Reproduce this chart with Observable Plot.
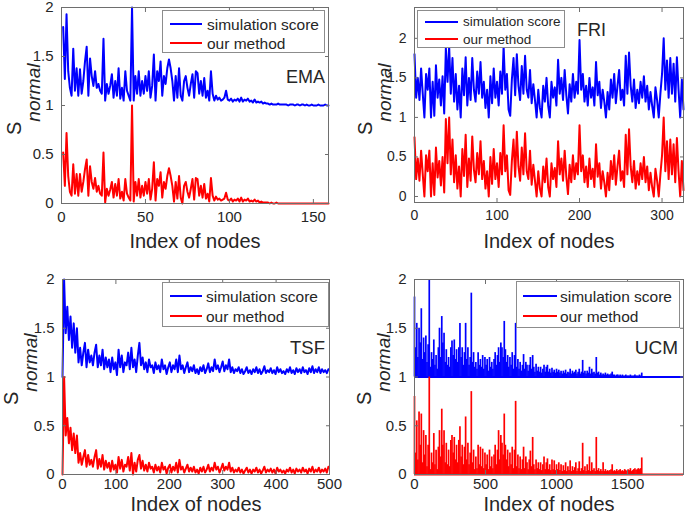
<!DOCTYPE html>
<html><head><meta charset="utf-8">
<script src="https://cdn.jsdelivr.net/npm/d3@7"></script>
<script src="https://cdn.jsdelivr.net/npm/@observablehq/plot@0.6"></script>
<style>
body{margin:0;background:#fff;}
#fig{position:relative;width:685px;height:517px;overflow:hidden;font-family:"Liberation Sans",Arial,Helvetica,sans-serif;color:#262626;background:#fff;}
.abs{position:absolute;white-space:nowrap;}
.legend{position:absolute;background:#fff;border:1px solid #8c8c8c;box-sizing:border-box;}
.lline{position:absolute;height:2px;}
</style></head><body><div id="fig"></div>
<script>
// ---------------- data ----------------
const seriesNames = ["simulation score", "our method"];
const panelNames = ["EMA", "FRI", "TSF", "UCM"];
const xLabel = "Index of nodes";

// EMA: nodes 1..159
const emaSim = [1.80,1.27,1.93,1.35,1.18,1.10,1.58,1.15,1.38,1.10,
1.37,1.12,1.25,1.45,1.60,1.10,1.48,1.30,1.20,1.35,
1.18,1.22,1.15,1.12,1.68,1.05,1.22,1.12,1.20,1.32,
1.08,1.25,1.10,1.38,1.07,1.18,1.05,1.35,1.15,1.10,
1.05,2.00,1.05,1.30,1.12,1.35,1.10,1.25,1.12,1.30,
1.15,1.35,1.08,1.20,1.52,1.05,1.35,1.25,1.45,1.10,
1.30,1.22,1.38,1.47,1.38,1.25,1.05,1.30,1.08,1.38,
1.10,1.05,1.25,1.30,1.18,1.10,1.22,1.32,1.08,1.35,
1.33,1.12,1.25,1.10,1.28,1.08,1.15,1.05,1.35,1.12,
1.05,1.10,1.06,1.08,1.05,1.06,1.08,1.15,1.06,1.05,
1.07,1.04,1.06,1.05,1.07,1.04,1.08,1.04,1.06,1.05,
1.07,1.04,1.05,1.03,1.06,1.03,1.04,1.03,1.04,1.02,
1.03,1.02,1.02,1.01,1.02,1.01,1.01,1.01,1.02,1.01,
1.01,1.01,1.01,1.01,1.00,1.01,1.01,1.01,1.00,1.01,
1.01,1.00,1.01,1.01,1.00,1.01,1.00,1.00,1.01,1.00,
1.00,1.00,1.01,1.00,1.00,1.00,1.01,1.00,1.00];
const emaOur = [0.52,0.18,0.72,0.28,0.12,0.08,0.40,0.10,0.30,0.08,
0.30,0.12,0.22,0.35,0.45,0.08,0.38,0.22,0.15,0.26,
0.12,0.18,0.10,0.08,0.52,0.01,0.15,0.08,0.14,0.22,
0.06,0.20,0.08,0.25,0.05,0.12,0.03,0.25,0.10,0.06,
0.03,1.00,0.02,0.22,0.08,0.25,0.06,0.18,0.08,0.22,
0.10,0.25,0.04,0.15,0.42,0.03,0.25,0.18,0.32,0.06,
0.22,0.15,0.28,0.36,0.28,0.18,0.02,0.22,0.05,0.28,
0.06,0.00,0.18,0.22,0.12,0.06,0.15,0.25,0.04,0.26,
0.25,0.08,0.18,0.06,0.20,0.05,0.10,0.02,0.26,0.08,
0.03,0.07,0.04,0.05,0.03,0.04,0.05,0.11,0.04,0.03,
0.05,0.02,0.04,0.03,0.05,0.02,0.06,0.02,0.04,0.03,
0.05,0.02,0.03,0.02,0.04,0.02,0.03,0.01,0.02,0.01,
0.01,0.01,0.01,0.00,0.01,0.00,0.00,0.01,0.00,0.00,
0.00,0.00,0.00,0.00,0.00,0.00,0.00,0.00,0.00,0.00,
0.00,0.00,0.00,0.00,0.00,0.00,0.00,0.00,0.00,0.00,
0.00,0.00,0.00,0.00,0.00,0.00,0.00,0.00,0.00];

// FRI: sampled every 2 nodes, 0..326
const friStep = 2;
const friSim = [1.80,1.25,1.50,1.22,1.62,1.30,1.00,1.55,1.35,1.62,
1.00,1.45,1.02,1.66,1.25,1.48,1.15,1.52,1.05,1.88,
1.45,1.90,1.30,1.75,1.20,1.55,1.10,1.40,1.00,1.62,
1.28,1.76,1.15,1.50,1.22,1.75,1.35,1.20,1.58,1.30,
1.70,1.25,1.45,1.12,1.35,1.00,1.52,1.18,1.62,1.25,
1.45,1.15,1.58,1.30,1.90,1.35,1.55,1.10,1.02,1.48,
1.75,1.28,1.80,1.40,1.22,1.65,1.30,1.78,1.35,1.25,
1.60,1.18,1.42,1.22,1.00,1.35,1.12,1.00,1.40,1.20,
1.50,1.15,1.00,1.45,1.25,1.38,1.15,1.73,1.30,1.50,
1.22,1.60,1.28,1.05,1.42,1.20,1.55,1.25,1.45,1.30,
1.98,1.35,1.55,1.20,1.40,1.15,1.50,1.25,1.38,1.15,
1.70,1.28,1.45,1.12,1.35,1.20,1.00,1.32,1.10,1.48,
1.25,1.55,1.18,1.40,1.60,1.22,1.35,1.15,1.78,1.30,
1.82,1.40,1.20,1.48,1.12,1.35,1.18,1.45,1.25,1.52,
1.20,1.40,1.10,1.32,1.15,1.00,1.38,1.22,1.00,1.30,
1.55,2.00,1.35,1.72,1.25,1.75,1.30,1.68,1.20,1.76,
1.35,1.00,1.48,1.10];
const friOur = [0.75,0.22,0.48,0.20,0.58,0.28,0.00,0.52,0.32,0.58,
0.00,0.42,0.02,0.62,0.24,0.45,0.14,0.50,0.05,0.98,
0.42,1.00,0.28,0.72,0.18,0.52,0.10,0.38,0.00,0.60,
0.26,0.78,0.12,0.48,0.20,0.76,0.34,0.18,0.55,0.28,
0.70,0.22,0.45,0.10,0.32,0.00,0.50,0.16,0.60,0.22,
0.42,0.12,0.55,0.28,0.90,0.32,0.52,0.08,0.02,0.45,
0.72,0.25,0.82,0.38,0.20,0.62,0.28,0.80,0.32,0.22,
0.58,0.15,0.40,0.20,0.00,0.32,0.10,0.00,0.38,0.18,
0.48,0.12,0.00,0.42,0.22,0.36,0.12,0.70,0.28,0.48,
0.20,0.58,0.25,0.03,0.40,0.18,0.52,0.22,0.42,0.28,
0.90,0.32,0.52,0.18,0.38,0.12,0.48,0.22,0.35,0.12,
0.66,0.25,0.42,0.10,0.32,0.18,0.00,0.30,0.08,0.45,
0.22,0.52,0.15,0.38,0.58,0.20,0.32,0.12,0.78,0.28,
0.85,0.38,0.18,0.45,0.10,0.32,0.15,0.42,0.22,0.50,
0.18,0.38,0.08,0.30,0.12,0.00,0.35,0.20,0.00,0.28,
0.52,1.00,0.32,0.70,0.22,0.72,0.28,0.66,0.18,0.74,
0.32,0.00,0.45,0.08];

// TSF: sampled every 3 nodes, 0..498
const tsfStep = 3;
const tsfSim = [1.00,2.00,1.45,1.72,1.38,1.62,1.30,1.55,1.25,1.50,
1.15,1.30,1.12,1.25,1.35,1.10,1.28,1.15,1.22,1.12,
1.25,1.33,1.10,1.22,1.12,1.28,1.08,1.20,1.10,1.18,
1.05,1.20,1.08,1.15,1.02,1.28,1.10,1.22,1.05,1.15,
1.12,1.25,1.08,1.30,1.10,1.18,1.05,1.22,1.35,1.12,
1.20,1.08,1.15,1.05,1.18,1.10,1.12,1.04,1.15,1.08,
1.12,1.05,1.18,1.08,1.12,1.03,1.10,1.15,1.05,1.12,
1.08,1.18,1.05,1.22,1.08,1.12,1.04,1.10,1.15,1.05,
1.10,1.06,1.12,1.04,1.08,1.03,1.10,1.06,1.12,1.04,
1.08,1.14,1.05,1.10,1.06,1.18,1.08,1.12,1.05,1.10,
1.16,1.06,1.12,1.08,1.18,1.05,1.10,1.04,1.08,1.06,
1.10,1.04,1.08,1.03,1.06,1.10,1.04,1.07,1.03,1.08,
1.05,1.10,1.04,1.08,1.03,1.06,1.11,1.04,1.07,1.05,
1.09,1.04,1.07,1.03,1.10,1.05,1.08,1.04,1.06,1.03,
1.08,1.05,1.10,1.04,1.07,1.03,1.09,1.05,1.08,1.04,
1.10,1.05,1.07,1.03,1.09,1.05,1.11,1.04,1.08,1.05,
1.10,1.04,1.08,1.05,1.07,1.04,1.08];
const tsfOur = [0.00,1.00,0.40,0.58,0.32,0.48,0.25,0.42,0.22,0.40,
0.12,0.22,0.10,0.18,0.25,0.08,0.20,0.10,0.15,0.08,
0.18,0.25,0.06,0.16,0.08,0.20,0.05,0.14,0.07,0.12,
0.03,0.14,0.05,0.10,0.02,0.18,0.06,0.15,0.03,0.10,
0.08,0.18,0.04,0.22,0.00,0.12,0.03,0.15,0.20,0.06,
0.14,0.04,0.10,0.03,0.12,0.06,0.08,0.02,0.10,0.04,
0.08,0.02,0.12,0.05,0.08,0.01,0.07,0.10,0.02,0.08,
0.04,0.12,0.02,0.15,0.05,0.08,0.02,0.06,0.10,0.03,
0.07,0.03,0.08,0.02,0.05,0.01,0.07,0.03,0.08,0.02,
0.05,0.10,0.03,0.07,0.04,0.12,0.05,0.08,0.02,0.06,
0.11,0.04,0.08,0.05,0.12,0.03,0.07,0.02,0.05,0.03,
0.07,0.02,0.05,0.01,0.04,0.07,0.02,0.05,0.01,0.05,
0.03,0.07,0.02,0.05,0.01,0.04,0.08,0.02,0.05,0.03,
0.06,0.02,0.05,0.01,0.07,0.03,0.05,0.02,0.04,0.01,
0.05,0.03,0.07,0.02,0.05,0.01,0.06,0.03,0.05,0.02,
0.07,0.03,0.05,0.01,0.06,0.03,0.08,0.02,0.05,0.03,
0.07,0.02,0.05,0.03,0.06,0.02,0.08];

// UCM: spike heights sampled every 8 nodes, 0..1600; baselines 1 and 0
const ucmStep = 8;
const ucmSimBase = 1, ucmOurBase = 0;
const ucmSim = [1.82,1.30,1.55,1.20,1.50,1.35,1.70,1.18,1.40,1.25,
1.42,1.15,1.33,2.00,1.10,1.25,1.18,1.38,1.12,1.22,
1.08,1.30,1.50,1.20,1.62,1.35,1.45,1.15,1.28,1.12,
1.20,1.10,1.30,1.37,1.22,1.38,1.18,1.28,1.15,1.30,
1.55,1.20,1.30,1.12,1.25,1.55,1.18,1.30,1.12,1.20,
1.86,1.15,1.25,1.10,1.15,1.08,1.25,1.12,1.18,1.10,
1.22,1.08,1.20,1.12,1.18,1.06,1.20,1.10,1.15,1.08,
1.18,1.25,1.12,1.22,1.30,1.15,1.35,1.30,1.20,1.57,
1.28,1.15,1.22,1.10,1.20,1.12,1.25,1.08,1.22,1.55,
1.10,1.18,1.08,1.15,1.06,1.12,1.23,1.08,1.15,1.12,
1.06,1.12,1.20,1.08,1.22,1.10,1.05,1.13,1.06,1.10,
1.05,1.10,1.04,1.08,1.12,1.05,1.10,1.12,1.05,1.08,
1.04,1.09,1.05,1.07,1.04,1.08,1.05,1.07,1.04,1.06,
1.03,1.06,1.04,1.07,1.03,1.05,1.04,1.08,1.03,1.06,
1.04,1.05,1.07,1.03,1.05,1.08,1.03,1.05,1.17,1.04,
1.06,1.03,1.06,1.04,1.10,1.03,1.08,1.04,1.05,1.03,
1.20,1.04,1.05,1.02,1.04,1.02,1.03,1.02,1.04,1.02,
1.03,1.02,1.02,1.03,1.05,1.02,1.02,1.01,1.02,1.02,
1.01,1.02,1.01,1.02,1.01,1.01,1.02,1.01,1.01,1.01,
1.02,1.01,1.01,1.01,1.02,1.01,1.01,1.01,1.02,1.01,
1.04];
const ucmOur = [0.80,0.22,0.55,0.15,0.64,0.30,0.62,0.12,0.45,0.20,
0.40,0.08,0.30,1.00,0.05,0.22,0.12,0.42,0.10,0.25,
0.05,0.28,0.45,0.18,0.67,0.30,0.45,0.12,0.32,0.10,
0.25,0.08,0.35,0.40,0.22,0.38,0.15,0.30,0.12,0.35,
0.49,0.18,0.30,0.10,0.28,0.59,0.15,0.32,0.10,0.22,
0.85,0.12,0.25,0.05,0.18,0.06,0.30,0.10,0.28,0.08,
0.26,0.06,0.22,0.10,0.20,0.05,0.25,0.08,0.18,0.06,
0.20,0.30,0.10,0.25,0.45,0.15,0.40,0.32,0.20,0.62,
0.30,0.15,0.25,0.08,0.22,0.10,0.28,0.06,0.25,0.75,
0.08,0.20,0.06,0.18,0.05,0.15,0.28,0.06,0.18,0.12,
0.05,0.15,0.24,0.08,0.38,0.10,0.05,0.15,0.06,0.12,
0.05,0.12,0.04,0.10,0.18,0.05,0.12,0.16,0.05,0.10,
0.04,0.15,0.05,0.14,0.04,0.10,0.05,0.12,0.04,0.10,
0.03,0.09,0.04,0.12,0.03,0.08,0.04,0.14,0.03,0.08,
0.04,0.07,0.12,0.03,0.06,0.13,0.03,0.06,0.32,0.04,
0.08,0.03,0.10,0.04,0.18,0.03,0.12,0.04,0.06,0.03,
0.38,0.04,0.06,0.03,0.05,0.03,0.12,0.03,0.05,0.03,
0.04,0.03,0.04,0.05,0.10,0.03,0.04,0.03,0.05,0.03,
0.04,0.05,0.03,0.04,0.03,0.05,0.04,0.03,0.05,0.04,
0.06,0.03,0.04,0.05,0.06,0.04,0.05,0.06,0.05,0.06,
0.17];

// ticks and domains
const yTicks = [0, 0.5, 1, 1.5, 2];
const emaXTicks = [0, 50, 100, 150], emaXDomain = [0, 159];
const friXTicks = [0, 100, 200, 300], friXDomain = [0, 326], friYDomain = [-0.076, 2.39];
const tsfXTicks = [0, 100, 200, 300, 400, 500], tsfXDomain = [0, 500];
const ucmXTicks = [0, 500, 1000, 1500], ucmXDomain = [0, 1894];

// ---------------- drawing ----------------
const BLUE = "#0000ff", RED = "#ff0000", FRAME = "#6e6e6e";
const FONT = '"Liberation Sans", Arial, Helvetica, sans-serif';
const fig = document.getElementById("fig");

function panel(c) {
  const fmt = d => String(d);
  const svg = Plot.plot({
    width: c.w, height: c.h,
    marginLeft: c.ml, marginRight: c.mr, marginTop: c.mt, marginBottom: c.mb,
    style: {fontFamily: FONT, fontSize: c.fs + "px", color: "#262626", background: "transparent", overflow: "visible"},
    x: {domain: c.xDomain},
    y: {domain: c.yDomain},
    marks: [
      ...c.marks,
      Plot.frame({stroke: FRAME, strokeWidth: 1}),
      Plot.axisX(c.xTicks, {tickSize: 0, tickPadding: c.tp, tickFormat: fmt, label: null, fontSize: c.fs, fill: "#262626"}),
      Plot.axisY(yTicks, {tickSize: 0, tickPadding: 8, tickFormat: fmt, label: null, fontSize: c.fs, fill: "#262626"}),
      Plot.axisX(c.xTicks, {tickSize: -4, tickFormat: () => "", label: null, stroke: FRAME}),
      Plot.axisX(c.xTicks, {anchor: "top", tickSize: -4, tickFormat: () => "", label: null, stroke: FRAME}),
      Plot.axisY(yTicks, {tickSize: -4, tickFormat: () => "", label: null, stroke: FRAME}),
      Plot.axisY(yTicks, {anchor: "right", tickSize: -4, tickFormat: () => "", label: null, stroke: FRAME})
    ]
  });
  svg.style.position = "absolute";
  svg.style.left = c.left + "px";
  svg.style.top = c.top + "px";
  fig.appendChild(svg);
}

// text placed by its baseline; line box kept tight
function txt(str, x, baseline, size, anchor = "start") {
  const d = document.createElement("div");
  d.className = "abs";
  d.textContent = str;
  const lh = Math.round(size * 0.85);
  d.style.fontSize = size + "px";
  d.style.lineHeight = lh + "px";
  d.style.top = (baseline - ((lh - 1.117 * size) / 2 + 0.905 * size)) + "px";
  if (anchor === "middle") { d.style.left = x + "px"; d.style.transform = "translateX(-50%)"; }
  else if (anchor === "end") { d.style.right = (685 - x) + "px"; }
  else d.style.left = x + "px";
  fig.appendChild(d);
}

function legend(b) {
  const box = document.createElement("div");
  box.className = "legend";
  box.style.left = b.l + "px"; box.style.top = b.t + "px";
  box.style.width = (b.r - b.l) + "px"; box.style.height = (b.b - b.t) + "px";
  fig.appendChild(box);
  [[seriesNames[0], BLUE, b.y1], [seriesNames[1], RED, b.y2]].forEach(([label, color, y]) => {
    const ln = document.createElement("div");
    ln.className = "lline";
    ln.style.left = b.x0 + "px"; ln.style.width = (b.x1 - b.x0) + "px";
    ln.style.top = (y - 1) + "px"; ln.style.background = color;
    fig.appendChild(ln);
    txt(label, b.tx, y + b.size * 0.36, b.size);
  });
}

function ylab(X, Y) {
  const d = document.createElement("div");
  d.className = "abs";
  d.style.left = X + "px"; d.style.top = Y + "px";
  d.style.transformOrigin = "0 0";
  d.style.transform = "rotate(-90deg)";
  d.style.fontSize = "20px";
  d.style.lineHeight = "22px";
  d.innerHTML = '<span style="font-size:20px">S</span><span style="font-size:19px;font-style:italic;vertical-align:-19px">normal</span>';
  fig.appendChild(d);
}

function lineMarks(sim, our, step, offset) {
  return [
    Plot.lineY(sim, {x: (d, i) => i * step + offset, stroke: BLUE, strokeWidth: 2}),
    Plot.lineY(our, {x: (d, i) => i * step + offset, stroke: RED, strokeWidth: 2})
  ];
}

// EMA
panel({left: 0, top: 0, w: 342, h: 258, ml: 61, mr: 14, mt: 7, mb: 55, fs: 15, tp: 8,
  xDomain: emaXDomain, yDomain: [0, 2], xTicks: emaXTicks,
  marks: lineMarks(emaSim, emaOur, 1, 1)});
// FRI
panel({left: 342, top: 0, w: 343, h: 258, ml: 72, mr: 2, mt: 7, mb: 56, fs: 14, tp: 8,
  xDomain: friXDomain, yDomain: friYDomain, xTicks: friXTicks,
  marks: lineMarks(friSim, friOur, friStep, 0)});
// TSF
panel({left: 0, top: 258, w: 342, h: 259, ml: 62, mr: 13, mt: 21, mb: 43, fs: 15, tp: 4,
  xDomain: tsfXDomain, yDomain: [0, 2], xTicks: tsfXTicks,
  marks: lineMarks(tsfSim, tsfOur, tsfStep, 0)});
// UCM
panel({left: 342, top: 258, w: 343, h: 259, ml: 72, mr: 2, mt: 21, mb: 43, fs: 15, tp: 4,
  xDomain: ucmXDomain, yDomain: [0, 2], xTicks: ucmXTicks,
  marks: [
    Plot.ruleY([ucmSimBase], {stroke: BLUE, strokeWidth: 2}),
    Plot.ruleX(ucmSim, {x: (d, i) => i * ucmStep, y1: ucmSimBase, y2: d => d, stroke: BLUE, strokeWidth: 1.7}),
    Plot.ruleY([ucmOurBase], {stroke: RED, strokeWidth: 2}),
    Plot.ruleX(ucmOur, {x: (d, i) => i * ucmStep, y1: ucmOurBase, y2: d => d, stroke: RED, strokeWidth: 1.7})
  ]});

// legends
legend({l: 162, t: 10, r: 325, b: 53, x0: 170, x1: 202, y1: 24, y2: 43.3, tx: 207, size: 15.5});
legend({l: 417, t: 10, r: 565, b: 48, x0: 425, x1: 458, y1: 21.7, y2: 39.3, tx: 463, size: 13.5});
legend({l: 162, t: 282, r: 329, b: 327, x0: 170, x1: 202, y1: 296, y2: 316, tx: 206, size: 15.5});
legend({l: 516, t: 281, r: 680, b: 328, x0: 523, x1: 557, y1: 296, y2: 316, tx: 560, size: 15.5});

// panel names
txt(panelNames[0], 325, 83.5, 18, "end");
txt(panelNames[1], 577, 37, 18, "start");
txt(panelNames[2], 325, 354, 18.5, "end");
txt(panelNames[3], 678, 355, 19, "end");

// x labels
txt(xLabel, 195, 248, 20, "middle");
txt(xLabel, 549, 248, 20, "middle");
txt(xLabel, 196, 511, 20, "middle");
txt(xLabel, 549, 511, 20, "middle");

// y labels
ylab(3, 135);
ylab(353.5, 135);
ylab(0, 405);
ylab(353, 405);
</script>
</body></html>
